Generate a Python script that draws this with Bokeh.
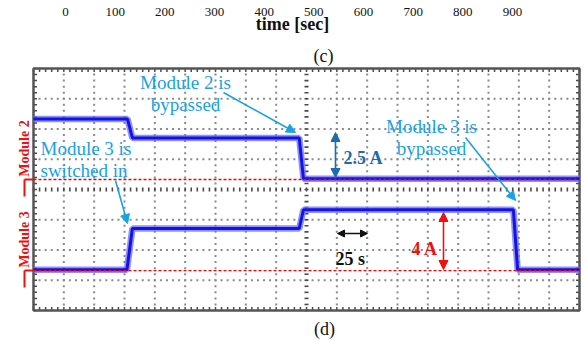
import numpy as np
from bokeh.plotting import figure
from bokeh.models import Range1d, Label, Arrow, NormalHead
from bokeh.core.properties import value
from bokeh.embed import file_html
from bokeh.resources import INLINE

# ---------------- data ----------------
# oscilloscope settings
sec_per_div = 25          # 25 s / div
amp_per_div = 2           # 2 A / div
n_div_x = 18
n_div_y = 8
minor_per_div = 5

# channel zero levels (divisions from bottom of screen)
m2_zero_div = 4.33
m3_zero_div = 1.32

# Module 2 current trace (time s, current A)
m2_time = [0, 77.5, 81.5, 219.0, 222.5, 450]
m2_amp = [4.0, 4.0, 2.75, 2.75, 0.05, 0.05]

# Module 3 current trace (time s, current A)
m3_time = [0, 77.0, 81.5, 219.0, 222.5, 395.5, 399.0, 450]
m3_amp = [0.05, 0.05, 2.78, 2.78, 4.02, 4.02, 0.05, 0.05]

# tick labels of panel (c)
c_ticks = [0, 100, 200, 300, 400, 500, 600, 700, 800, 900]
c_labels = [str(v) for v in c_ticks]

# ---------------- layout helpers ----------------
W, H = 586, 341
PX_L, PX_R, PX_T, PX_B = 33, 579, 68, 310
T_SPAN = n_div_x * sec_per_div
sx = (PX_R - PX_L) / T_SPAN
sy = (PX_B - PX_T) / n_div_y


def X(px):
    return (px - PX_L) / sx


def Y(py):
    return (PX_B - py) / sy


p = figure(width=W, height=H, output_backend="svg", toolbar_location=None,
           x_range=Range1d(X(0), X(W)), y_range=Range1d(Y(H), Y(0)),
           x_axis_location=None, y_axis_location=None, min_border=0)
p.grid.visible = False
p.outline_line_color = None
p.background_fill_color = "white"
p.border_fill_color = "white"

# extra range for panel (c) tick labels: 0 at px 65, 100 per 49.67 px
c_sx = 49.67 / 100
p.extra_x_ranges = {"c": Range1d(-65 / c_sx, (W - 65) / c_sx)}

FONT = "Liberation Serif"

# ---------------- scope grid ----------------
minor_t = np.arange(0, T_SPAN + 0.01, sec_per_div / minor_per_div)
minor_y = np.arange(0, n_div_y + 0.001, 1 / minor_per_div)
grid_t = [i * sec_per_div for i in range(1, n_div_x) if i != n_div_x // 2]
grid_y = [j for j in range(1, n_div_y) if j != n_div_y // 2]

dx, dy = [], []
for t in grid_t:
    for yv in minor_y[1:-1]:
        dx.append(t)
        dy.append(yv)
for yv in grid_y:
    for t in minor_t[1:-1]:
        dx.append(t)
        dy.append(yv)
p.scatter(dx, dy, marker="square", size=2, color="#8a8a8a", line_color=None)

tick_col = "#4a4a4a"
# center axes ticks
ct = T_SPAN / 2
cy = n_div_y / 2
hw = 2 / sx
hh = 2 / sy
p.segment(x0=[ct - hw] * len(minor_y), x1=[ct + hw] * len(minor_y), y0=minor_y, y1=minor_y,
          line_color=tick_col, line_width=1.6)
p.segment(x0=minor_t, x1=minor_t, y0=[cy - hh] * len(minor_t), y1=[cy + hh] * len(minor_t),
          line_color=tick_col, line_width=1.6)
# border ticks
bl = 3.5 / sy
bw = 3.5 / sx
p.segment(x0=minor_t, x1=minor_t, y0=[n_div_y] * len(minor_t), y1=[n_div_y - bl] * len(minor_t),
          line_color=tick_col, line_width=1.5)
p.segment(x0=minor_t, x1=minor_t, y0=[0] * len(minor_t), y1=[bl] * len(minor_t),
          line_color=tick_col, line_width=1.5)
p.segment(x0=[0] * len(minor_y), x1=[bw] * len(minor_y), y0=minor_y, y1=minor_y,
          line_color=tick_col, line_width=1.5)
p.segment(x0=[T_SPAN] * len(minor_y), x1=[T_SPAN - bw] * len(minor_y), y0=minor_y, y1=minor_y,
          line_color=tick_col, line_width=1.5)
# frame
p.quad(left=[0], right=[T_SPAN], bottom=[0], top=[n_div_y], fill_color=None,
       line_color="#555555", line_width=2.5)

# ---------------- traces ----------------
m2_y = [m2_zero_div + a / amp_per_div for a in m2_amp]
m3_y = [m3_zero_div + a / amp_per_div for a in m3_amp]
for ty, yy in ((m2_time, m2_y), (m3_time, m3_y)):
    p.line(ty, yy, line_color="#6b6bff", line_width=6.5, line_alpha=0.75)
    p.line(ty, yy, line_color="#1414e0", line_width=3)

# zero reference lines
for z in (m2_zero_div, m3_zero_div):
    p.line([0, T_SPAN], [z, z], line_color="#ff0000", line_width=1.3, line_dash="3 2")

# red channel brackets
for z in (m2_zero_div, m3_zero_div):
    p.line([X(24), 0], [z, z], line_color="#ee1111", line_width=2)
    p.line([X(24), X(24)], [z, z - 17 / sy], line_color="#ee1111", line_width=2)

# ---------------- annotations ----------------
CYAN = "#18a2e2"
ann = 19


def lab(px, py, text, color, size, align="left", bold=False, angle=0):
    p.add_layout(Label(x=X(px), y=Y(py), text=text, text_color=color,
                       text_font=FONT, text_font_size=f"{size}px",
                       text_align=align, text_baseline="middle", angle=angle,
                       text_font_style="bold" if bold else "normal"))


lab(185, 82, "Module 2 is", CYAN, ann, "center")
lab(185, 104, "bypassed", CYAN, ann, "center")
lab(40, 148, "Module 3 is", CYAN, ann)
lab(40, 170, "switched in", CYAN, ann)
lab(431, 126, "Module 3 is", CYAN, ann, "center")
lab(431, 148, "bypassed", CYAN, ann, "center")

lab(343, 157, "2.5 A", "#1a6db0", 18, bold=True)
lab(411, 248, "4 A", "#ee1111", 18, bold=True)
lab(335, 258, "25 s", "#111111", 18, bold=True)

lab(24, 148, "Module 2", "#ee1111", 14, "center", bold=True, angle=np.pi / 2)
lab(24, 239, "Module 3", "#ee1111", 14, "center", bold=True, angle=np.pi / 2)

lab(324, 328, "(d)", "#111111", 18, "center")
lab(323, 55, "(c)", "#111111", 18, "center")
lab(292, 23, "time [sec]", "#111111", 18, "center", bold=True)

p.text(x=c_ticks, y=[Y(11)] * len(c_ticks), text=c_labels, x_range_name="c",
       text_font=value(FONT), text_font_size="13px", text_align="center",
       text_baseline="alphabetic", text_color="#111111")


def arrow(x0, y0, x1, y1, color, both=False, size=9):
    kw = dict(end=NormalHead(size=size, fill_color=color, line_color=color))
    if both:
        kw["start"] = NormalHead(size=size, fill_color=color, line_color=color)
    else:
        kw["start"] = None
    p.add_layout(Arrow(x_start=X(x0), y_start=Y(y0), x_end=X(x1), y_end=Y(y1),
                       line_color=color, line_width=1.6, **kw))


arrow(223, 92, 295, 132, CYAN)
arrow(115, 180, 127, 223, CYAN)
arrow(465, 137, 515, 200, CYAN)
arrow(335, 132, 335, 177, "#1a6db0", both=True)
arrow(443, 212, 443, 269, "#ee1111", both=True)
arrow(337, 233, 367, 233, "#111111", both=True, size=7)

open("out.html", "w").write(file_html(p, INLINE))
